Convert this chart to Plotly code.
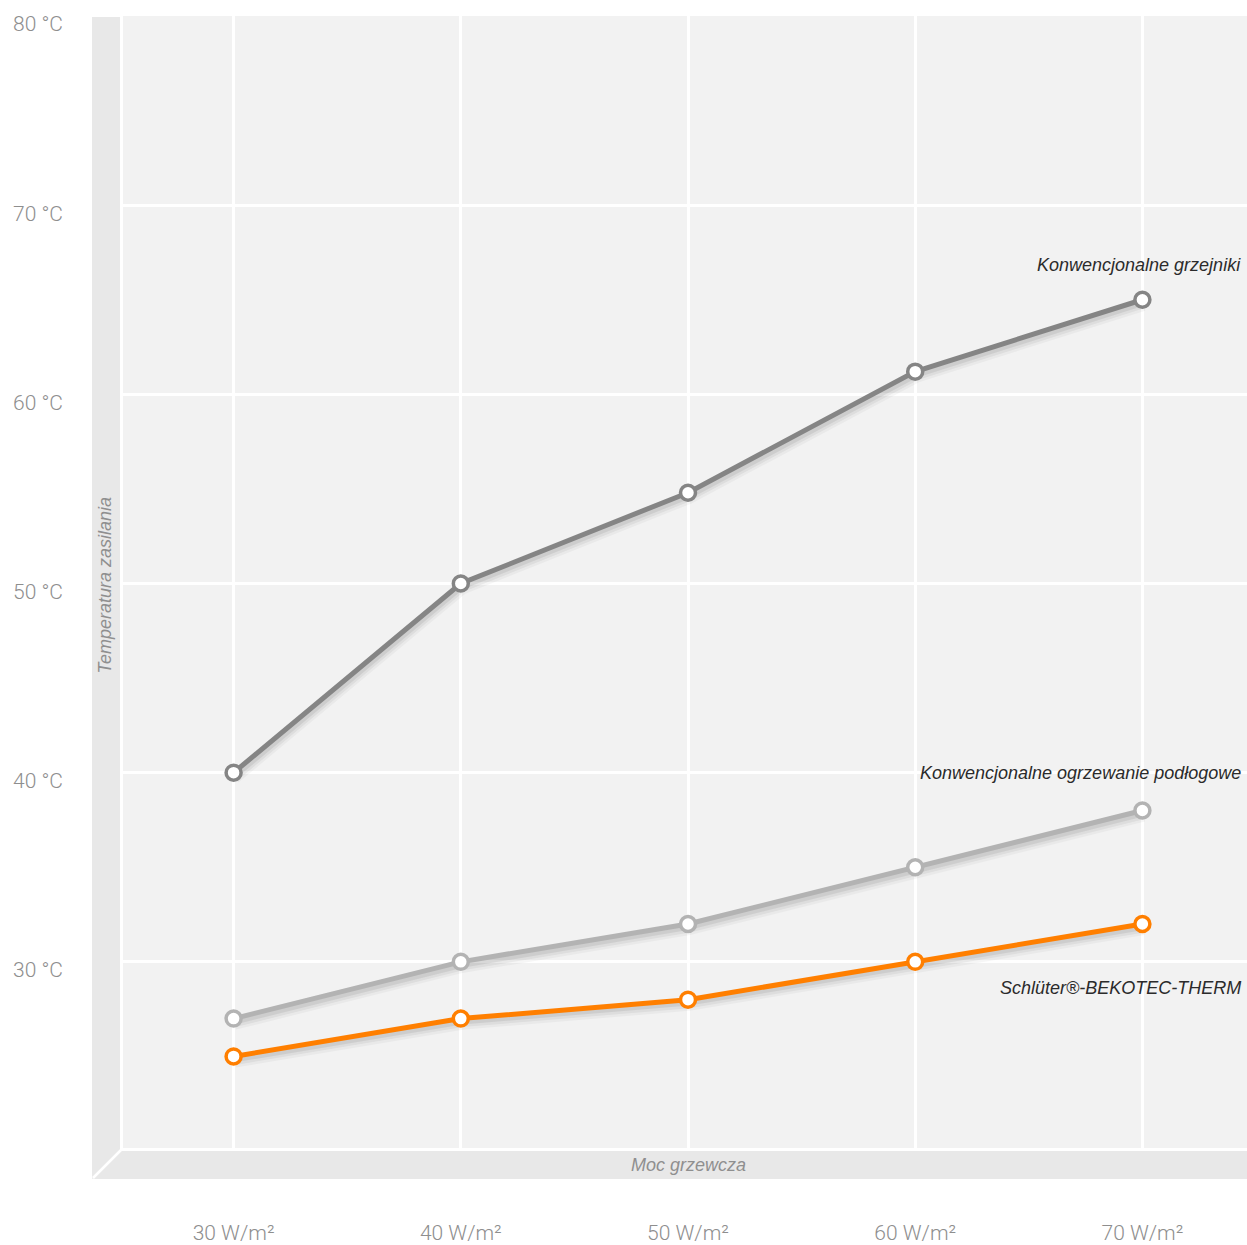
import plotly.graph_objects as go

# Heating power (W/m²) and supply temperature (°C) per system
moc = [30, 40, 50, 60, 70]
grzejniki = [40.0, 50.0, 54.8, 61.2, 65.0]
podlogowe = [27.0, 30.0, 32.0, 35.0, 38.0]
bekotec = [25.0, 27.0, 28.0, 30.0, 32.0]

x_ticks = [30, 40, 50, 60, 70]
x_labels = ["30 W/m²", "40 W/m²", "50 W/m²", "60 W/m²", "70 W/m²"]
y_ticks = [20, 30, 40, 50, 60, 70, 80]
y_labels = ["", "30 °C", "40 °C", "50 °C", "60 °C", "70 °C", "80 °C"]

series = [
    ("Konwencjonalne grzejniki", grzejniki, "#858585"),
    ("Konwencjonalne ogrzewanie podłogowe", podlogowe, "#b3b3b3"),
    ("Schlüter®-BEKOTEC-THERM", bekotec, "#ff7f00"),
]

W, H = 1247, 1245
L, R, T, B = 120, 0, 16, 94
PW, PH = W - L - R, H - T - B

def px(x):
    return (x - L) / PW

def py(y):
    return (H - B - y) / PH

fig = go.Figure()

# soft drop shadows under each line
for name, vals, color in series:
    for w, a, dy in [(11, 0.035, 0.30), (8, 0.05, 0.24), (5, 0.07, 0.18)]:
        fig.add_trace(go.Scatter(
            x=[m + 0.06 for m in moc], y=[v - dy for v in vals],
            mode="lines", line=dict(color=f"rgba(0,0,0,{a})", width=w),
            hoverinfo="skip", showlegend=False))

for name, vals, color in series:
    fig.add_trace(go.Scatter(
        x=moc, y=vals, mode="lines+markers", name=name,
        line=dict(color=color, width=5),
        marker=dict(symbol="circle", size=15, color="white",
                    line=dict(color=color, width=3.5)),
        showlegend=False))

wall = "#e8e8e8"
shapes = [
    # left wall
    dict(type="path", xref="paper", yref="paper",
         path=f"M {px(92)} {py(17)} L {px(120)} {py(17)} L {px(120)} {py(1151)} L {px(92)} {py(1179)} Z",
         fillcolor=wall, line=dict(width=0), layer="below"),
    # floor
    dict(type="path", xref="paper", yref="paper",
         path=f"M {px(120)} {py(1151)} L {px(1247)} {py(1151)} L {px(1247)} {py(1179)} L {px(92)} {py(1179)} Z",
         fillcolor=wall, line=dict(width=0), layer="below"),
    # corner edge
    dict(type="line", xref="paper", yref="paper",
         x0=px(121), y0=py(1150), x1=px(93), y1=py(1178),
         line=dict(color="white", width=2.5), layer="above"),
    # plot edges
    dict(type="line", xref="paper", yref="paper",
         x0=px(121.5), y0=py(16), x1=px(121.5), y1=py(1150),
         line=dict(color="white", width=3), layer="above"),
    dict(type="line", xref="paper", yref="paper",
         x0=px(120), y0=py(1149.5), x1=px(1247), y1=py(1149.5),
         line=dict(color="white", width=3), layer="above"),
]

label_font = dict(family="Liberation Sans", size=18, color="#2b2b2b")
title_font = dict(family="Liberation Sans", size=18, color="#8f8f8f")
annotations = [
    dict(text="<i>Konwencjonalne grzejniki</i>", xref="paper", yref="y",
         x=px(1243), y=66.85, xanchor="right", yanchor="middle",
         showarrow=False, font=label_font),
    dict(text="<i>Konwencjonalne ogrzewanie podłogowe</i>", xref="paper", yref="y",
         x=px(1243), y=40.0, xanchor="right", yanchor="middle",
         showarrow=False, font=label_font),
    dict(text="<i>Schlüter®-BEKOTEC-THERM</i>", xref="paper", yref="y",
         x=px(1243), y=28.63, xanchor="right", yanchor="middle",
         showarrow=False, font=label_font),
    dict(text="<i>Moc grzewcza</i>", xref="x", yref="paper",
         x=50, y=py(1165), xanchor="center", yanchor="middle",
         showarrow=False, font=title_font),
    dict(text="<i>Temperatura zasilania</i>", xref="paper", yref="y",
         x=px(105), y=49.9, xanchor="center", yanchor="middle", textangle=-90,
         showarrow=False, font=title_font),
]

tick_font = dict(family="Roboto", size=21, color="#8e8e8e", weight=300)

fig.update_layout(
    width=W, height=H,
    margin=dict(l=L, r=R, t=T, b=B),
    paper_bgcolor="white", plot_bgcolor="#f2f2f2",
    shapes=shapes, annotations=annotations,
    xaxis=dict(range=[25, 25 + PW / 22.72], tickvals=x_ticks, ticktext=x_labels,
               showgrid=True, gridcolor="white", gridwidth=3, zeroline=False,
               showline=False, ticks="", tickfont=tick_font,
               ticklabelstandoff=67, fixedrange=True),
    yaxis=dict(range=[20, 80], tickvals=y_ticks, ticktext=y_labels,
               showgrid=True, gridcolor="white", gridwidth=3, zeroline=False,
               showline=False, ticks="", tickfont=tick_font,
               ticklabelstandoff=56, ticklabelshift=8, fixedrange=True),
    showlegend=False,
)

fig.write_html("out.html")
